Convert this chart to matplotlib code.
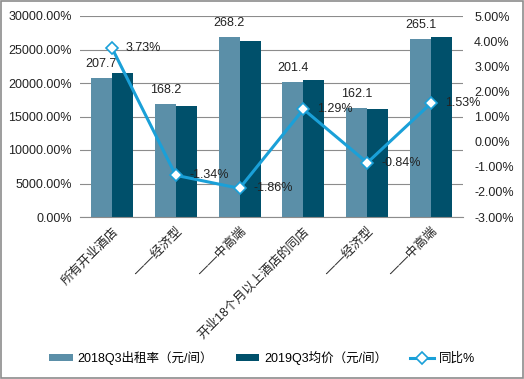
import matplotlib.pyplot as plt
import numpy as np
from matplotlib.ticker import FuncFormatter

plt.rcParams['font.family'] = ['Liberation Sans', 'Noto Sans CJK SC']
plt.rcParams['font.size'] = 9

categories = ["所有开业酒店", "——经济型", "——中高端", "开业18个月以上酒店的同店", "——经济型", "——中高端"]
price_2018 = [207.7, 168.2, 268.2, 201.4, 162.1, 265.1]
price_2019 = [215.4, 165.9, 263.2, 204.0, 160.7, 269.2]
yoy = [3.73, -1.34, -1.86, 1.29, -0.84, 1.53]

c18 = '#5B8FA8'
c19 = '#00506B'
cline = '#1AA0D8'

fig = plt.figure(figsize=(5.24, 3.79), dpi=100)
ax = fig.add_axes([80 / 524, 1 - 217 / 379, 383 / 524, 201 / 379])
x = np.arange(len(categories))
w = 0.33

ax.bar(x - w / 2, price_2018, w, color=c18, label='2018Q3出租率（元/间）', zorder=2)
ax.bar(x + w / 2, price_2019, w, color=c19, label='2019Q3均价（元/间）', zorder=2)
for xi, v in zip(x, price_2018):
    ax.annotate(f"{v:.1f}", (xi - w / 2, v), xytext=(0, 6), textcoords='offset points',
                ha='center', va='bottom', color='#222222')

ax.set_ylim(0, 300)
ax.set_yticks(np.arange(0, 301, 50))
ax.yaxis.set_major_formatter(FuncFormatter(lambda v, p: f"{v * 100:.2f}%"))
ax.set_xlim(-0.5, len(categories) - 0.5)
ax.set_xticks(x)
ax.set_xticklabels(categories, rotation=45, ha='right', rotation_mode='anchor')
ax.grid(axis='y', color='#8C8C8C', linewidth=0.8, zorder=0)
ax.tick_params(length=0, pad=6, colors='#222222')
for s in ['left', 'right', 'top']:
    ax.spines[s].set_visible(False)
ax.spines['bottom'].set_color('#8C8C8C')

ax2 = ax.twinx()
ax2.plot(x, yoy, color=cline, linewidth=2.2, marker='D', markersize=6,
         markerfacecolor='white', markeredgecolor=cline, markeredgewidth=1.2,
         label='同比%', zorder=3)
for xi, v in zip(x, yoy):
    ax2.annotate(f"{v:.2f}%", (xi, v), xytext=(10, 0), textcoords='offset points',
                 ha='left', va='center', color='#222222')
ax2.set_ylim(-3, 5)
ax2.set_yticks(np.arange(-3, 5.1, 1))
ax2.yaxis.set_major_formatter(FuncFormatter(lambda v, p: f"{v:.2f}%"))
ax2.tick_params(length=0, pad=8, colors='#222222')
for s in ['left', 'right', 'top', 'bottom']:
    ax2.spines[s].set_visible(False)

h1, l1 = ax.get_legend_handles_labels()
h2, l2 = ax2.get_legend_handles_labels()
fig.legend(h1 + h2, l1 + l2, loc='center', bbox_to_anchor=(0.5, 1 - 358 / 379), ncol=3,
           frameon=False, handlelength=1.9, handleheight=0.5, handletextpad=0.4,
           columnspacing=1.8)

fig.patches.append(plt.Rectangle((0.002, 0.002), 0.996, 0.996, transform=fig.transFigure,
                                 fill=False, edgecolor='#8C8C8C', linewidth=1.2))
fig.savefig('out.png', dpi=100)
